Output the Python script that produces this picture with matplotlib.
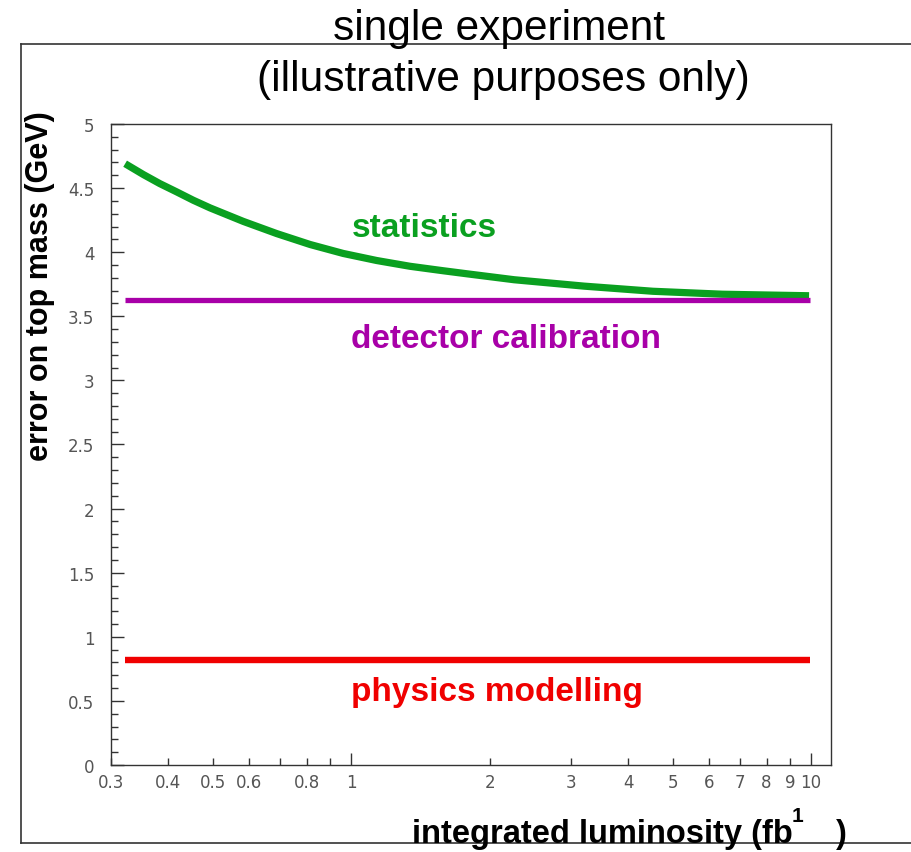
import matplotlib
matplotlib.use('Agg')
import matplotlib.pyplot as plt
from matplotlib.lines import Line2D
from matplotlib.ticker import FixedLocator, FixedFormatter, MultipleLocator

plt.rcParams['font.family'] = ['Liberation Sans', 'DejaVu Sans']

# values
lumi_stat = [0.322, 0.353, 0.383, 0.417, 0.453, 0.493, 0.582, 0.688, 0.813, 0.960,
             1.135, 1.341, 1.585, 1.796, 2.26, 3.21, 4.53, 6.41, 9.9]
err_stat = [4.69, 4.605, 4.535, 4.47, 4.405, 4.345, 4.24, 4.145, 4.06, 3.99,
            3.935, 3.89, 3.855, 3.83, 3.785, 3.735, 3.695, 3.672, 3.66]
lumi_range = [0.322, 9.95]
err_calib = [3.63, 3.63]
err_phys = [0.82, 0.82]

x_major = [1, 10]
x_major_labels = ['1', '10']
x_minor = [0.3, 0.4, 0.5, 0.6, 0.7, 0.8, 0.9, 2, 3, 4, 5, 6, 7, 8, 9]
x_minor_labels = ['0.3', '0.4', '0.5', '0.6', '', '0.8', '', '2', '3', '4', '5', '6', '7', '8', '9']

green = '#0aa020'
purple = '#a800a8'
red = '#f00000'
dark = '#333333'

fig = plt.figure(figsize=(9.12, 8.53), dpi=100)
ax = fig.add_axes([0.1217, 0.1020, 0.7895, 0.7515])

ax.plot(lumi_stat, err_stat, color=green, lw=5.2, solid_capstyle='butt', solid_joinstyle='round')
ax.plot(lumi_range, err_calib, color=purple, lw=3.8, solid_capstyle='butt')
ax.plot(lumi_range, err_phys, color=red, lw=4.6, solid_capstyle='butt')

ax.set_xscale('log')
ax.set_xlim(0.3, 11.05)
ax.set_ylim(0, 5)

ax.xaxis.set_major_locator(FixedLocator(x_major))
ax.xaxis.set_major_formatter(FixedFormatter(x_major_labels))
ax.xaxis.set_minor_locator(FixedLocator(x_minor))
ax.xaxis.set_minor_formatter(FixedFormatter(x_minor_labels))
ax.yaxis.set_major_locator(MultipleLocator(0.5))
ax.yaxis.set_minor_locator(MultipleLocator(0.1))
ax.yaxis.set_major_formatter(plt.FuncFormatter(lambda v, p: ('%g' % v)))

ax.tick_params(which='both', direction='in', color=dark, width=1.0,
               labelsize=12, labelcolor='#555555')
ax.tick_params(which='major', length=9)
ax.tick_params(which='minor', length=5)
ax.tick_params(axis='x', which='both', pad=6)
ax.tick_params(axis='y', which='both', pad=12)
ax.tick_params(axis='y', which='both', right=False)
for lab in ax.get_xticklabels(which='both') + ax.get_yticklabels():
    lab.set_family('DejaVu Sans')
for s in ax.spines.values():
    s.set_color(dark)
    s.set_linewidth(1.0)

# curve labels
ax.text(1.0, 4.13, 'statistics', color=green, fontsize=24, fontweight='bold')
ax.text(1.0, 3.26, 'detector calibration', color=purple, fontsize=24, fontweight='bold')
ax.text(1.0, 0.51, 'physics modelling', color=red, fontsize=24, fontweight='bold')

# outer frame
fx0, fy0, fy1 = 21 / 912, 1 - 844 / 853, 1 - 45 / 853
for xs, ys in [([fx0, fx0], [fy0, fy1]), ([fx0, 1.0], [fy1, fy1]), ([fx0, 1.0], [fy0, fy0])]:
    fig.add_artist(Line2D(xs, ys, transform=fig.transFigure, color=dark, lw=1.2))

# titles
fig.text(0.547, 1 - 40 / 853, 'single experiment', ha='center', va='baseline', fontsize=30.5)
fig.text(0.5515, 1 - 91 / 853, '(illustrative purposes only)', ha='center', va='baseline', fontsize=30.5)

# axis labels
fig.text(40 / 912, 1 - 286 / 853, 'error on top mass (GeV)', rotation=90, ha='center', va='center',
         fontsize=22, fontweight='bold')
fig.text(411.7 / 912, 1 - 843 / 853, 'integrated luminosity (fb', ha='left', va='baseline',
         fontsize=23.5, fontweight='bold')
fig.text(792 / 912, 1 - 822 / 853, '1', ha='left', va='baseline', fontsize=15, fontweight='bold')
fig.text(836 / 912, 1 - 843 / 853, ')', ha='left', va='baseline', fontsize=23.5, fontweight='bold')

fig.savefig('out.png', dpi=100)
